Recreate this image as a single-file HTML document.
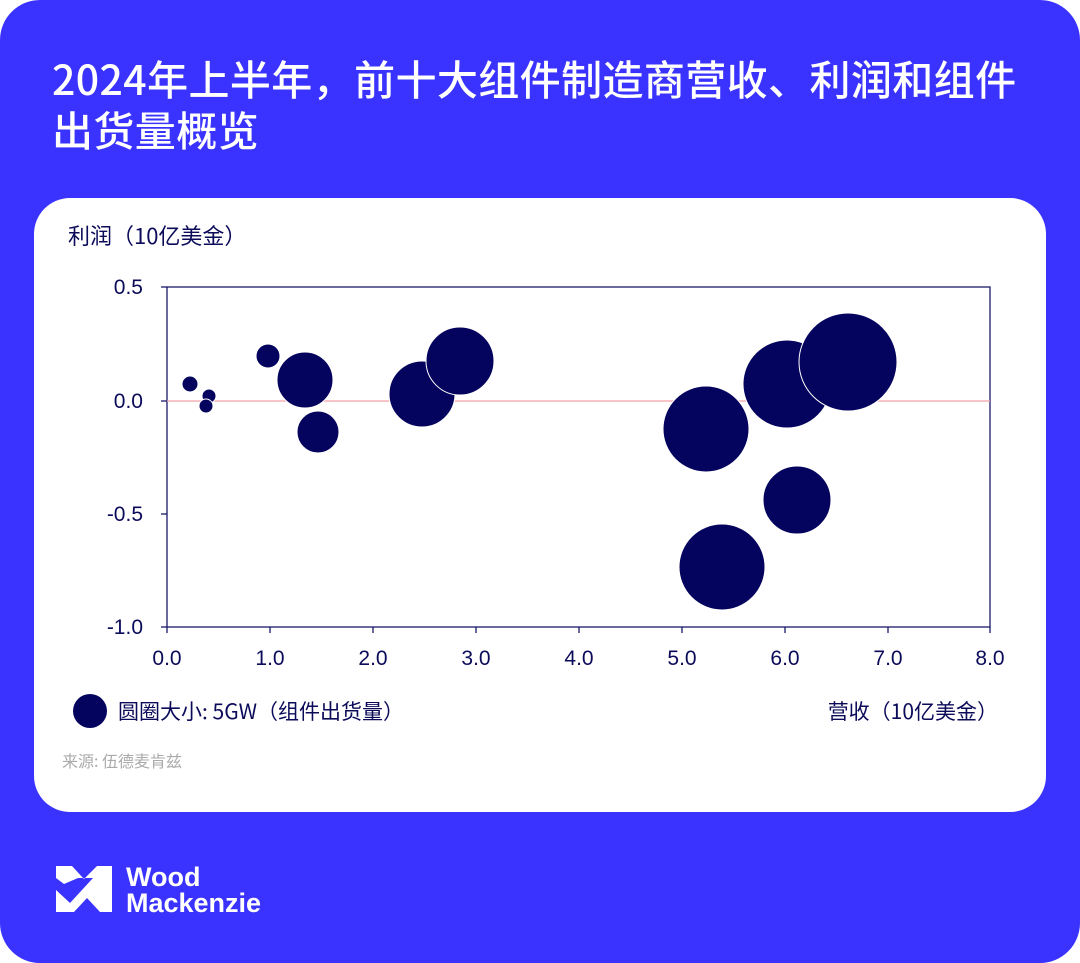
<!DOCTYPE html>
<html><head><meta charset="utf-8"><style>
html,body{margin:0;padding:0;background:#fff;}
body{width:1080px;height:963px;position:relative;overflow:hidden;font-family:"Liberation Sans","Noto Sans CJK SC",sans-serif;}
.bg{position:absolute;left:0;top:0;width:1080px;height:963px;background:#3a33ff;border-radius:40px;}
.title{position:absolute;left:52px;top:52px;color:#fff;font-size:41px;font-weight:500;line-height:51px;font-family:"Noto Sans CJK SC",sans-serif;letter-spacing:0.4px;white-space:nowrap;}
.card{position:absolute;left:34px;top:198px;width:1012px;height:614px;background:#fff;border-radius:36px;}
</style></head><body>
<div class="bg"></div>
<div class="title">2024年上半年，前十大组件制造商营收、利润和组件<br>出货量概览</div>
<div class="card"></div>
<svg width="1080" height="963" style="position:absolute;left:0;top:0" font-family="Liberation Sans, Noto Sans CJK SC, sans-serif">
<text x="68" y="244" font-size="22" fill="#0b0b5a" font-family="Noto Sans CJK SC, sans-serif">利润（10亿美金）</text>
<g stroke="#1a1a6a" stroke-width="1.3" fill="none">
<rect x="167" y="287" width="823" height="340"/>
<line x1="161" y1="287" x2="167" y2="287"/><line x1="161" y1="401" x2="167" y2="401"/><line x1="161" y1="514" x2="167" y2="514"/><line x1="161" y1="627" x2="167" y2="627"/>
<line x1="167" y1="627" x2="167" y2="633"/><line x1="270" y1="627" x2="270" y2="633"/><line x1="373" y1="627" x2="373" y2="633"/><line x1="476" y1="627" x2="476" y2="633"/><line x1="579" y1="627" x2="579" y2="633"/><line x1="682" y1="627" x2="682" y2="633"/><line x1="785" y1="627" x2="785" y2="633"/><line x1="888" y1="627" x2="888" y2="633"/><line x1="990" y1="627" x2="990" y2="633"/>
</g>
<line x1="167" y1="401" x2="990" y2="401" stroke="#f4a0a8" stroke-width="1.3"/>
<g font-size="21" fill="#0b0b5a" text-anchor="end">
<text x="143" y="294">0.5</text><text x="143" y="408">0.0</text><text x="143" y="521">-0.5</text><text x="143" y="634">-1.0</text>
</g>
<g font-size="21" fill="#0b0b5a" text-anchor="middle">
<text x="167" y="665">0.0</text><text x="270" y="665">1.0</text><text x="373" y="665">2.0</text><text x="476" y="665">3.0</text><text x="579" y="665">4.0</text><text x="682" y="665">5.0</text><text x="785" y="665">6.0</text><text x="888" y="665">7.0</text><text x="990" y="665">8.0</text>
</g>
<g fill="#04045e" stroke="#fff" stroke-width="1">
<circle cx="190" cy="384" r="8"/><circle cx="209" cy="396" r="7"/><circle cx="206" cy="406" r="7"/>
<circle cx="268" cy="356" r="12"/><circle cx="305" cy="380" r="28"/><circle cx="318" cy="432" r="21"/>
<circle cx="422" cy="394" r="33"/><circle cx="460" cy="361" r="34"/>
<circle cx="706" cy="429" r="43"/><circle cx="722" cy="567" r="43"/><circle cx="787" cy="384" r="44"/><circle cx="797" cy="500" r="34"/><circle cx="848" cy="362" r="49"/>
</g>
<circle cx="90" cy="711" r="17" fill="#04045e"/>
<text x="118" y="719" font-size="21" fill="#0b0b5a" font-family="Noto Sans CJK SC, sans-serif">圆圈大小: 5GW（组件出货量）</text>
<text x="998" y="719" font-size="21" fill="#0b0b5a" text-anchor="end" font-family="Noto Sans CJK SC, sans-serif">营收（10亿美金）</text>
<text x="62" y="767" font-size="16" fill="#aaaaaa" font-family="Noto Sans CJK SC, sans-serif">来源: 伍德麦肯兹</text>
<g fill="#fff">
<polygon points="56,866 72,866 84,879 97,866 112,866 112,912 100,912 87,898 74,912 56,912 56,890 70,903 93,878 78,878 64,884 56,878"/>
</g>
<text x="126" y="886" font-size="27" font-weight="bold" fill="#fff">Wood</text>
<text x="126" y="912" font-size="27" font-weight="bold" fill="#fff">Mackenzie</text>
</svg>
</body></html>
